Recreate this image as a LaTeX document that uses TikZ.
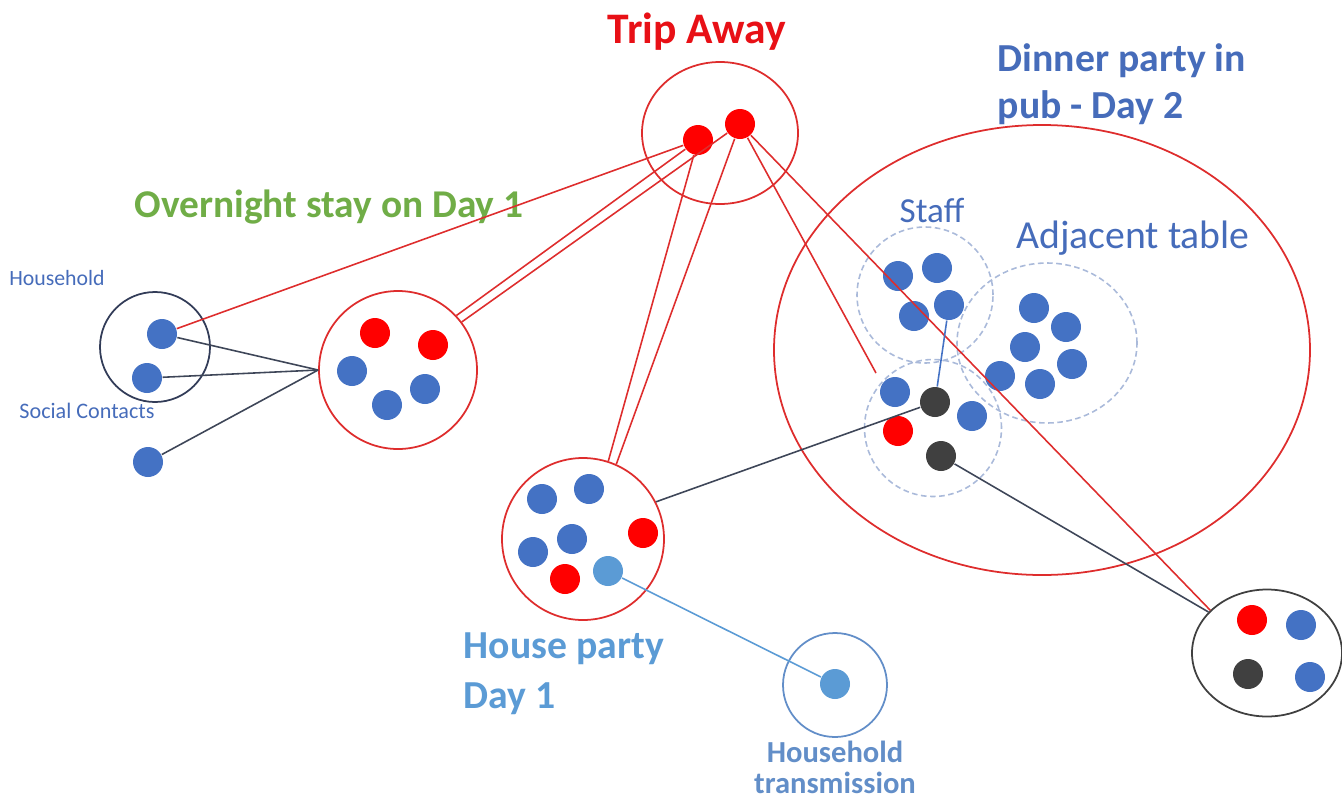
\documentclass[tikz,border=0pt]{standalone}
\usepackage{fontspec}
\setmainfont{Carlito}
\usetikzlibrary{shapes.geometric}
\definecolor{dotred}{RGB}{255,0,0}
\definecolor{linered}{RGB}{222,45,45}
\definecolor{txtred}{RGB}{232,16,22}
\definecolor{dotblue}{RGB}{68,114,196}
\definecolor{lightblue}{RGB}{91,155,213}
\definecolor{dotdark}{RGB}{64,64,64}
\definecolor{txtgreen}{RGB}{112,173,71}
\definecolor{navy}{RGB}{50,60,88}
\definecolor{greyline}{RGB}{62,70,88}
\definecolor{dashblue}{RGB}{170,186,218}
\definecolor{txtblue}{RGB}{70,108,186}
\definecolor{hhblue}{RGB}{98,142,200}

\begin{document}
\begin{tikzpicture}[
    dot/.style={circle, minimum size=0.30cm, inner sep=0pt},
    rdot/.style={dot, fill=dotred},
    bdot/.style={dot, fill=dotblue},
    ldot/.style={dot, fill=lightblue},
    kdot/.style={dot, fill=dotdark},
    grp/.style={circle, draw, line width=0.5pt, inner sep=0pt},
    egrp/.style={ellipse, draw, line width=0.5pt, inner sep=0pt},
    tbl/.style={dashed, dash pattern=on 1.6pt off 1pt, draw=dashblue, line width=0.45pt, inner sep=0pt},
    redline/.style={draw=linered, line width=0.45pt},
    greyline/.style={draw=greyline, line width=0.45pt},
    lbl/.style={inner sep=0pt, anchor=base}]
        \useasboundingbox (0,0) rectangle (13.42,-8.02);
        % groups
        \node[egrp, draw=linered, minimum width=1.56cm, minimum height=1.42cm] (trip) at (7.20,-1.33) {};
        \node[egrp, draw=linered, minimum width=5.36cm, minimum height=4.50cm] (pub) at (10.42,-3.50) {};
        \node[grp, draw=navy, minimum size=1.10cm] (hh) at (1.55,-3.47) {};
        \node[grp, draw=linered, minimum size=1.58cm] (on) at (3.98,-3.70) {};
        \node[grp, draw=linered, minimum size=1.62cm] (hp) at (5.83,-5.39) {};
        \node[grp, draw=hhblue, minimum size=1.04cm] (ht) at (8.35,-6.85) {};
        \node[tbl, circle, minimum size=1.36cm] (staff) at (9.25,-2.95) {};
        \node[tbl, ellipse, minimum width=1.80cm, minimum height=1.60cm] (adj) at (10.47,-3.43) {};
        \node[tbl, circle, minimum size=1.37cm] (party) at (9.33,-4.28) {};
        \node[egrp, draw=dotdark, minimum width=1.50cm, minimum height=1.27cm] (br) at (12.67,-6.53) {};
        % people
        \node[rdot] (t1) at (6.98,-1.40) {};
        \node[rdot] (t2) at (7.40,-1.24) {};
        \node[bdot] (hh1) at (1.62,-3.34) {};
        \node[bdot] (hh2) at (1.47,-3.78) {};
        \node[bdot] (sc) at (1.48,-4.62) {};
        \node[rdot] (on1) at (3.75,-3.33) {};
        \node[rdot] (on2) at (4.33,-3.45) {};
        \node[bdot] (on3) at (3.52,-3.71) {};
        \node[bdot] (on4) at (3.87,-4.05) {};
        \node[bdot] (on5) at (4.25,-3.89) {};
        \node[bdot] (hp1) at (5.42,-4.99) {};
        \node[bdot] (hp2) at (5.89,-4.89) {};
        \node[bdot] (hp3) at (5.33,-5.52) {};
        \node[bdot] (hp4) at (5.72,-5.39) {};
        \node[rdot] (hp5) at (6.43,-5.33) {};
        \node[rdot] (hp6) at (5.65,-5.79) {};
        \node[ldot] (hp7) at (6.08,-5.71) {};
        \node[ldot] (ht1) at (8.35,-6.84) {};
        \node[bdot] (s1) at (8.98,-2.76) {};
        \node[bdot] (s2) at (9.37,-2.68) {};
        \node[bdot] (s3) at (9.14,-3.16) {};
        \node[bdot] (s4) at (9.49,-3.05) {};
        \node[bdot] (a1) at (10.34,-3.08) {};
        \node[bdot] (a2) at (10.66,-3.27) {};
        \node[bdot] (a3) at (10.25,-3.47) {};
        \node[bdot] (a4) at (10.72,-3.64) {};
        \node[bdot] (a5) at (10.00,-3.76) {};
        \node[bdot] (a6) at (10.40,-3.84) {};
        \node[bdot] (p1) at (8.95,-3.92) {};
        \node[kdot] (p2) at (9.35,-4.02) {};
        \node[bdot] (p3) at (9.72,-4.16) {};
        \node[rdot] (p4) at (8.98,-4.31) {};
        \node[kdot] (p5) at (9.41,-4.56) {};
        \node[rdot] (b1) at (12.52,-6.20) {};
        \node[bdot] (b2) at (13.01,-6.25) {};
        \node[kdot] (b3) at (12.48,-6.74) {};
        \node[bdot] (b4) at (13.10,-6.77) {};
        \coordinate (pe) at (8.76,-3.73);
        % labels
        \node[lbl, text=txtred, font=\fontsize{12.4}{14}\selectfont\bfseries] (ttrip) at (6.97,-0.43) {Trip Away};
        \node[lbl, text=txtgreen, font=\fontsize{11.2}{13}\selectfont\bfseries] (ton) at (3.29,-2.17) {Overnight stay on Day 1};
        \node[lbl, anchor=base west, align=left, text=txtblue, font=\fontsize{11.3}{13.1}\selectfont\bfseries] (tpub) at (9.97,-1.18) {Dinner party in\\pub - Day 2};
        \node[lbl, text=txtblue, font=\fontsize{11.3}{13}\selectfont] (tadj) at (11.33,-2.48) {Adjacent table};
        \node[lbl, text=txtblue, font=\fontsize{10}{12}\selectfont] (tstaff) at (9.32,-2.22) {Staff};
        \node[lbl, text=txtblue, font=\fontsize{6.2}{7}\selectfont] (thh) at (0.57,-2.85) {Household};
        \node[lbl, text=txtblue, font=\fontsize{6.3}{7}\selectfont] (tsc) at (0.87,-4.18) {Social Contacts};
        \node[lbl, anchor=base west, align=left, text=lightblue, font=\fontsize{11.3}{14}\selectfont\bfseries] (thp) at (4.63,-7.08) {House party\\Day 1};
        \node[lbl, align=center, text=hhblue, font=\fontsize{8.7}{8.6}\selectfont\bfseries] (tht) at (8.35,-7.93) {Household\\transmission};
        % contacts
        \draw[greyline] (hh1) -- (on.west);
        \draw[greyline] (hh2) -- (on.west);
        \draw[greyline] (sc) -- (on.west);
        \draw[redline] (hh1) -- (t1);
        \draw[redline] (on.43) -- (t1);
        \draw[redline] (on.37) -- (t2);
        \draw[redline] (hp.72) -- (t1);
        \draw[redline] (hp.66) -- (t2);
        \draw[redline] (t2) -- (pe);
        \draw[redline] (t2) -- (br.143);
        \draw[greyline] (hp.27) -- (p2);
        \draw[greyline] (p5) -- (br.145);
        \draw[draw=dotblue, line width=0.45pt] (s4) -- (p2);
        \draw[draw=lightblue, line width=0.45pt] (hp7) -- (ht1);
    \end{tikzpicture}
\end{document}
